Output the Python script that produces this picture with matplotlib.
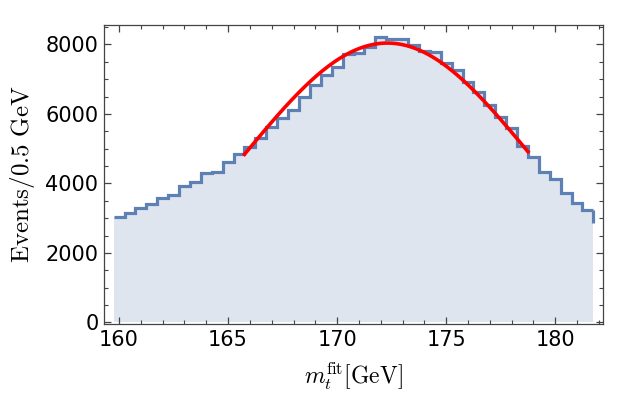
import numpy as np
import matplotlib
matplotlib.use("Agg")
import matplotlib.pyplot as plt
from matplotlib.ticker import MultipleLocator

# histogram, 0.5 GeV bins from 159.75 to 181.75
bin_lo = 159.75
bin_width = 0.5
counts = [3045, 3142, 3300, 3410, 3590, 3670, 3935, 4030, 4293, 4322,
          4627, 4860, 5050, 5320, 5625, 5876, 6125, 6480, 6835, 7135,
          7343, 7720, 7760, 7920, 8220, 8150, 8150, 7970, 7820, 7780,
          7480, 7266, 6930, 6642, 6259, 5910, 5588, 5075, 4771, 4340,
          4121, 3740, 3448, 3225]
end_drop = 2860

# gaussian fit shown in red
fit_amp = 8040
fit_mean = 172.3
fit_sigma = 6.5
fit_range = (165.75, 178.75)

edges = bin_lo + bin_width * np.arange(len(counts) + 1)

plt.rcParams['font.family'] = ['DejaVu Sans']
plt.rcParams['mathtext.fontset'] = 'cm'

fig = plt.figure(figsize=(6.25, 4.15), dpi=100)
ax = fig.add_axes([0.1664, 0.2193, 0.7984, 0.7205])

line_col = '#5E81B5'
ax.stairs(counts, edges, baseline=0, fill=True, color='#DEE5EF', lw=0)
ax.stairs(counts, edges, baseline=None, color=line_col, lw=2.3)
ax.plot([edges[-1], edges[-1]], [counts[-1], end_drop], color=line_col, lw=2.3,
        solid_capstyle='butt')

xf = np.linspace(fit_range[0], fit_range[1], 200)
yf = fit_amp * np.exp(-(xf - fit_mean) ** 2 / (2 * fit_sigma ** 2))
ax.plot(xf, yf, color='#FF0000', lw=2.6)

ax.set_xlim(159.31, 182.19)
ax.set_ylim(-43, 8560)
ax.xaxis.set_major_locator(MultipleLocator(5))
ax.xaxis.set_minor_locator(MultipleLocator(1))
ax.yaxis.set_major_locator(MultipleLocator(2000))
ax.yaxis.set_minor_locator(MultipleLocator(500))
ax.tick_params(which='both', direction='in', top=True, right=True,
               color='#444444', labelsize=15, pad=4)
ax.tick_params(which='major', length=5, width=0.9)
ax.tick_params(which='minor', length=3, width=0.8)
for s in ax.spines.values():
    s.set_color('#444444')
    s.set_linewidth(0.9)

ax.set_xlabel(r'$m_t^{\mathrm{fit}}[\mathrm{GeV}]$', fontsize=17, labelpad=8)
ax.set_ylabel(r'$\mathrm{Events/0.5\ GeV}$', fontsize=18, labelpad=6)

fig.savefig('out.png', dpi=100)
